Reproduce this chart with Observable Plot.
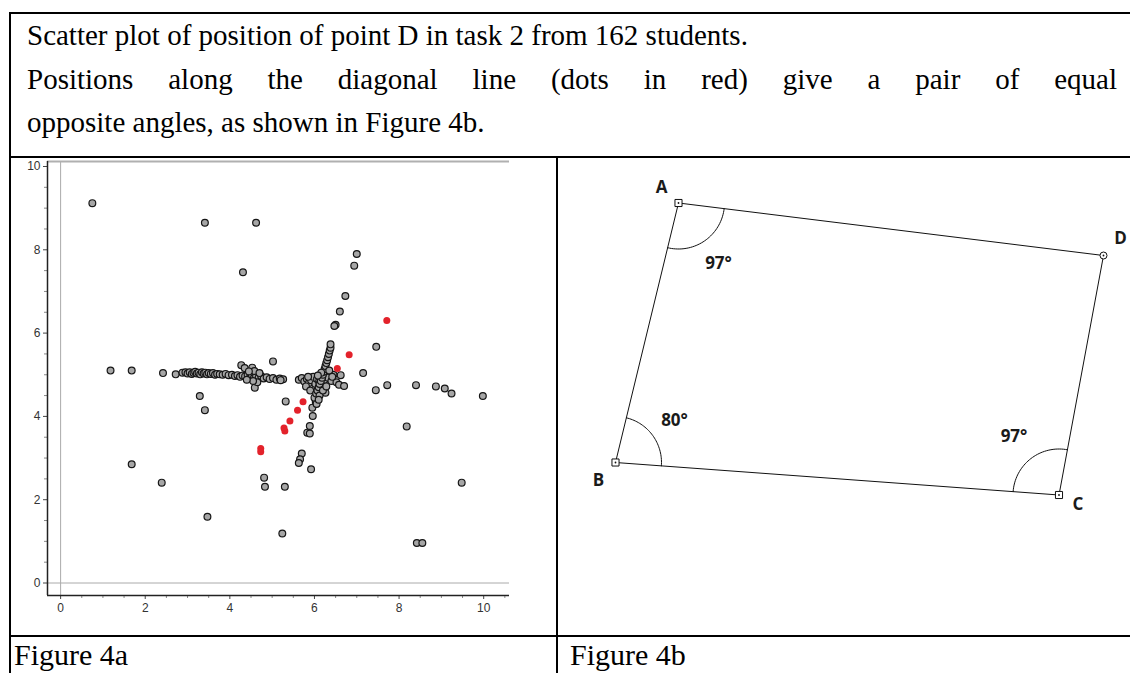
<!DOCTYPE html>
<html><head><meta charset="utf-8">
<script src="https://cdn.jsdelivr.net/npm/d3@7"></script>
<script src="https://cdn.jsdelivr.net/npm/@observablehq/plot@0.6"></script>
<style>
body{margin:0;width:1130px;height:673px;overflow:hidden;background:#fff;position:relative;font-family:"Liberation Serif","Times New Roman",serif;}
.ln{position:absolute;background:#000;}
.txt{position:absolute;font-size:29px;line-height:1;white-space:nowrap;color:#000;}
#scatter{position:absolute;left:12px;top:158px;}
#quad{position:absolute;left:560px;top:160px;}
</style></head><body>
<div class="ln" style="left:9px;top:12px;width:1130px;height:2px"></div>
<div class="ln" style="left:9px;top:12px;width:2px;height:670px"></div>
<div class="ln" style="left:9px;top:156px;width:1130px;height:2px"></div>
<div class="ln" style="left:556px;top:156px;width:2px;height:520px"></div>
<div class="ln" style="left:9px;top:635px;width:1130px;height:2px"></div>
<div class="txt" style="left:27px;top:21px">Scatter plot of position of point D in task 2 from 162 students.</div>
<div class="txt" style="left:27px;top:65px;width:1090px;text-align:justify;text-align-last:justify;white-space:normal">Positions along the diagonal line (dots in red) give a pair of equal</div>
<div class="txt" style="left:27px;top:108px">opposite angles, as shown in Figure 4b.</div>
<div class="txt" style="left:14px;top:640px;font-size:30px">Figure 4a</div>
<div class="txt" style="left:570px;top:640px;font-size:30px">Figure 4b</div>
<div id="scatter"></div>
<div id="quad"></div>
<script>
// ---- Figure 4a data: positions of point D ----
const grayX = [0.75,3.41,4.62,4.31,7.00,6.94,6.73,6.60,6.50,6.47,7.46,1.18,1.68,2.42,2.72,3.29,3.41,1.68,2.39,3.47,4.81,4.83,5.30,5.24,8.42,8.55,9.48,8.18,9.98,9.24,9.08,8.87,8.40,7.72,7.45,7.15,5.02,5.32,4.59,5.92,5.70,5.66,5.63,5.83,5.89,5.89,5.96,5.95,6.03,
 2.88,2.95,3.00,3.05,3.10,3.14,3.18,3.22,3.26,3.30,3.34,3.38,3.42,3.46,3.50,3.55,3.60,3.65,3.70,3.76,3.83,3.90,3.97,4.05,4.12,4.18,4.24,4.30,4.36,4.42,4.48,4.52,4.57,4.62,4.68,4.74,4.80,4.87,4.94,5.02,5.10,5.18,5.26,
 4.27,4.35,4.53,4.58,4.45,4.65,4.55,4.40,5.20,
 5.63,5.70,5.76,5.82,5.87,5.92,5.97,6.02,6.06,6.11,6.16,6.24,6.32,6.40,6.45,6.52,6.58,6.62,6.70,6.26,5.80,5.90,
 6.00,6.04,6.07,6.10,6.12,6.15,6.18,6.20,6.22,6.24,6.26,6.28,6.30,6.32,6.34,6.36,6.38,6.38,6.12,6.20,6.28,6.35,6.16,6.05,6.10,
 6.42,6.08,5.85,4.70];
const grayY = [9.12,8.65,8.65,7.46,7.90,7.62,6.89,6.52,6.20,6.17,5.67,5.10,5.10,5.04,5.01,4.49,4.15,2.85,2.41,1.59,2.53,2.31,2.31,1.19,0.96,0.96,2.41,3.76,4.49,4.55,4.67,4.72,4.75,4.75,4.63,5.04,5.32,4.36,4.69,2.73,3.11,2.97,2.88,3.61,3.59,3.77,4.01,4.21,4.35,
 5.05,5.06,5.03,5.06,5.02,5.05,5.07,5.03,5.05,5.01,5.06,5.03,5.05,5.01,5.04,5.02,5.04,5.00,5.02,5.01,5.00,5.02,4.99,5.00,4.97,4.99,4.95,4.98,4.96,5.00,4.94,4.98,4.92,4.96,4.93,4.97,4.91,4.94,4.90,4.92,4.88,4.91,4.89,
 5.23,5.16,5.17,5.09,5.08,4.82,4.85,4.88,4.87,
 4.88,4.92,4.84,4.90,4.80,4.87,4.95,4.78,4.90,4.84,4.96,4.88,4.93,4.85,5.00,4.82,4.76,4.99,4.73,4.57,4.72,4.62,
 4.45,4.55,4.62,4.70,4.78,4.85,4.93,5.00,5.07,5.14,5.21,5.28,5.35,5.42,5.50,5.58,5.65,5.73,4.50,4.62,4.72,5.10,5.05,4.30,4.40,
 4.95,4.98,4.95,5.04];
const redX = [4.73,4.73,5.28,5.30,5.42,5.60,5.73,6.54,6.82,7.71];
const redY = [3.23,3.15,3.72,3.65,3.89,4.15,4.35,5.15,5.48,6.30];
const majorTicks = [0,2,4,6,8,10];
const minorTicks = [0.5,1,1.5,2.5,3,3.5,4.5,5,5.5,6.5,7,7.5,8.5,9,9.5,10.5];
const minorTicksY = [0.5,1,1.5,2.5,3,3.5,4.5,5,5.5,6.5,7,7.5,8.5,9,9.5];

// ---- Figure 4b data: quadrilateral ABCD ----
const vertexNames = ["A","B","C","D"];
const vertexX = [2.36,1.10,9.97,10.86];
const vertexY = [8.55,3.36,2.71,7.50];
const angleVertices = ["A","B","C"];
const angleLabels = ["97°","80°","97°"];

const gray = grayX.map((x,i)=>({x, y: grayY[i]}));
const red = redX.map((x,i)=>({x, y: redY[i]}));

const sc = Plot.plot({
  width: 500, height: 470,
  marginLeft: 35, marginRight: 3, marginTop: 3, marginBottom: 33,
  x: {domain: [-0.31, 10.61]},
  y: {domain: [-0.3, 10.12]},
  style: {fontFamily: "'Liberation Sans', Arial, sans-serif", fontSize: "12px", color: "#333", background: "#fff"},
  marks: [
    Plot.ruleX([0], {stroke: "#aaa", strokeWidth: 1}),
    Plot.ruleY([0], {stroke: "#aaa", strokeWidth: 1}),
    Plot.ruleY([10.12], {stroke: "#b0b0b0", strokeWidth: 2}),
    Plot.axisX(minorTicks, {anchor: "bottom", tickSize: 3, tickFormat: () => "", label: null, stroke: "#888"}),
    Plot.axisX(majorTicks, {anchor: "bottom", tickSize: 4, tickPadding: 4, label: null, stroke: "#444", fill: "#333"}),
    Plot.axisY(minorTicksY, {anchor: "left", tickSize: 3, tickFormat: () => "", label: null, stroke: "#888"}),
    Plot.axisY(majorTicks, {anchor: "left", tickSize: 4, tickPadding: 3, label: null, stroke: "#444", fill: "#333"}),
    Plot.ruleX([-0.31], {stroke: "#222", strokeWidth: 1.5}),
    Plot.ruleY([-0.3], {stroke: "#222", strokeWidth: 1.5}),
    Plot.dot(gray, {x: "x", y: "y", r: 3.4, fill: "#a6a6a6", stroke: "#151515", strokeWidth: 1.2}),
    Plot.dot(red, {x: "x", y: "y", r: 3.5, fill: "#e3222b", stroke: "none"})
  ]
});
document.getElementById("scatter").appendChild(sc);

// quadrilateral geometry
const V = {};
vertexNames.forEach((n,i)=>V[n] = {name: n, x: vertexX[i], y: vertexY[i]});
const order = ["A","B","C","D","A"];
const poly = order.map(n => V[n]);
const neighbors = {A: ["B","D"], B: ["A","C"], C: ["B","D"], D: ["A","C"]};
const arcR = 0.92;
const arcs = [];
angleVertices.forEach(n => {
  const v = V[n], [p, q] = neighbors[n].map(k => V[k]);
  const a1 = Math.atan2(p.y - v.y, p.x - v.x);
  let d = Math.atan2(q.y - v.y, q.x - v.x) - a1;
  while (d > Math.PI) d -= 2*Math.PI;
  while (d < -Math.PI) d += 2*Math.PI;
  for (let k = 0; k <= 40; k++) {
    const t = a1 + d*k/40;
    arcs.push({g: n, x: v.x + arcR*Math.cos(t), y: v.y + arcR*Math.sin(t)});
  }
});
const vertexOffsets = {A: [-17,-15], B: [-17,18], C: [19,10], D: [17,-17]};
const angleOffsets = {A: [40,61], B: [59,-42], C: [-45,-58]};
const vertexData = vertexNames.map(n => V[n]);
const angleData = angleVertices.map((n,i) => ({...V[n], label: angleLabels[i], dx: angleOffsets[n][0], dy: angleOffsets[n][1]}));
const squares = vertexData.filter(d => d.name !== "D");
const circ = vertexData.filter(d => d.name === "D");
const lf = "'Open Sans', 'Noto Sans', sans-serif";

const qd = Plot.plot({
  width: 568, height: 470, margin: 0,
  x: {domain: [0, 11.36], axis: null},
  y: {domain: [0, 9.4], axis: null},
  style: {background: "transparent"},
  marks: [
    Plot.line(poly, {x: "x", y: "y", stroke: "#111", strokeWidth: 1}),
    Plot.line(arcs, {x: "x", y: "y", z: "g", stroke: "#111", strokeWidth: 1}),
    Plot.dot(squares, {x: "x", y: "y", symbol: "square", r: 4, fill: "#fff", stroke: "#111", strokeWidth: 1}),
    Plot.dot(circ, {x: "x", y: "y", r: 3.5, fill: "#fff", stroke: "#111", strokeWidth: 1}),
    Plot.dot(vertexData, {x: "x", y: "y", r: 0.9, fill: "#111"}),
    ...vertexNames.map(n => Plot.text([V[n]], {x: "x", y: "y", text: "name", dx: vertexOffsets[n][0], dy: vertexOffsets[n][1], fontSize: 17, fontWeight: "bold", fontFamily: lf, fill: "#1a1a1a"})),
    ...angleData.map(d => Plot.text([d], {x: "x", y: "y", text: "label", dx: d.dx, dy: d.dy, fontSize: 17, fontWeight: "bold", fontFamily: lf, fill: "#1a1a1a"}))
  ]
});
document.getElementById("quad").appendChild(qd);
</script>
</body></html>
